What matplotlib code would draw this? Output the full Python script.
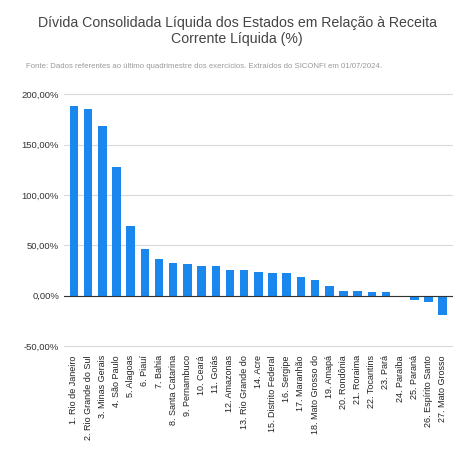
import matplotlib
matplotlib.use("Agg")
import matplotlib.pyplot as plt
from matplotlib.ticker import FuncFormatter

plt.rcParams['font.family'] = ['Liberation Sans', 'DejaVu Sans']

estados = ["1. Rio de Janeiro","2. Rio Grande do Sul","3. Minas Gerais","4. São Paulo","5. Alagoas",
"6. Piauí","7. Bahia","8. Santa Catarina","9. Pernambuco","10. Ceará","11. Goiás","12. Amazonas",
"13. Rio Grande do","14. Acre","15. Distrito Federal","16. Sergipe","17. Maranhão","18. Mato Grosso do",
"19. Amapá","20. Rondônia","21. Roraima","22. Tocantins","23. Pará","24. Paraíba","25. Paraná",
"26. Espírito Santo","27. Mato Grosso"]
valores = [188,185,168,128,69,46,36.5,32.5,31,29,29,25.7,25,23.5,22.8,22.8,19,15.6,9.8,4.9,4.9,3.9,3.9,-1.3,-4.6,-6.2,-19.5]
yticks = [-50,0,50,100,150,200]

fig = plt.figure(figsize=(4.74,4.68), dpi=100)
ax = fig.add_axes([0.135,0.25,0.82,0.555])
x = range(len(valores))
ax.bar(x, valores, width=0.6, color="#1a87ef", zorder=3)
ax.set_xlim(-0.7, len(valores)-0.3)
ax.set_ylim(-55, 203)
ax.set_yticks(yticks)
ax.yaxis.set_major_formatter(FuncFormatter(lambda v,p: f"{v:.2f}%".replace(".", ",")))
ax.grid(axis="y", color="#d9d9d9", lw=0.8, zorder=0)
ax.axhline(0, color="#333333", lw=0.8, zorder=4)
ax.set_xticks(list(x))
ax.set_xticklabels(estados, rotation=90, fontsize=6.5, color="#222222")
ax.tick_params(axis="y", labelsize=6.8, colors="#333333", length=0)
ax.tick_params(axis="x", length=0, pad=3)
for s in ax.spines.values():
    s.set_visible(False)
fig.text(0.5, 0.965, "Dívida Consolidada Líquida dos Estados em Relação à Receita\nCorrente Líquida (%)",
         ha="center", va="top", fontsize=10.2, color="#444444", linespacing=1.15)
fig.text(0.055, 0.858, "Fonte: Dados referentes ao último quadrimestre dos exercícios. Extraídos do SICONFI em 01/07/2024.",
         ha="left", va="center", fontsize=5.6, color="#999999")
fig.savefig("out.png", dpi=100, facecolor="white")
